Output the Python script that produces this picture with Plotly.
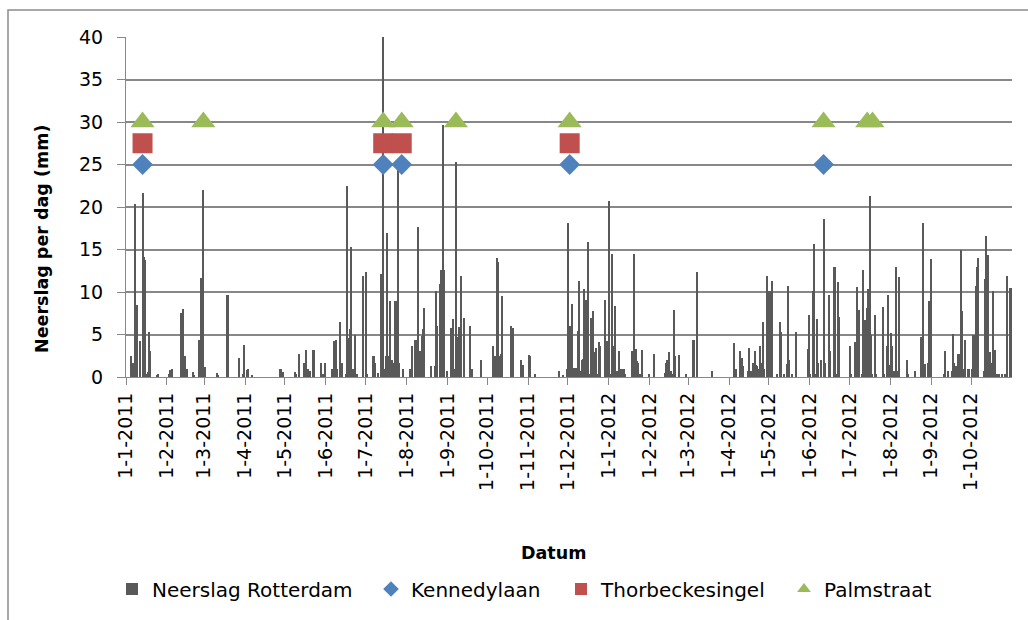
import pandas as pd
import plotly.graph_objects as go

# Daily precipitation Rotterdam (mm), only wet days listed; all other days are 0
rain_dates = [
    "2011-01-04", "2011-01-06", "2011-01-07", "2011-01-08", "2011-01-09", "2011-01-11", "2011-01-13",
    "2011-01-14", "2011-01-15", "2011-01-16", "2011-01-17", "2011-01-18", "2011-01-19", "2011-01-24",
    "2011-01-25", "2011-02-02", "2011-02-03", "2011-02-04", "2011-02-11", "2011-02-13", "2011-02-14",
    "2011-02-15", "2011-02-16", "2011-02-20", "2011-02-21", "2011-02-25", "2011-02-26", "2011-02-27",
    "2011-02-28", "2011-03-01", "2011-03-10", "2011-03-11", "2011-03-18", "2011-03-19", "2011-03-27",
    "2011-03-30", "2011-03-31", "2011-04-02", "2011-04-03", "2011-04-06", "2011-04-27", "2011-04-28",
    "2011-04-29", "2011-05-08", "2011-05-09", "2011-05-11", "2011-05-15", "2011-05-16", "2011-05-17",
    "2011-05-18", "2011-05-20", "2011-05-22", "2011-05-23", "2011-05-28", "2011-05-29", "2011-05-30",
    "2011-05-31", "2011-06-05", "2011-06-07", "2011-06-08", "2011-06-09", "2011-06-11", "2011-06-12",
    "2011-06-13", "2011-06-16", "2011-06-17", "2011-06-18", "2011-06-19", "2011-06-20", "2011-06-21",
    "2011-06-23", "2011-06-24", "2011-06-29", "2011-07-01", "2011-07-02", "2011-07-06", "2011-07-07",
    "2011-07-08", "2011-07-10", "2011-07-12", "2011-07-13", "2011-07-14", "2011-07-15", "2011-07-16",
    "2011-07-17", "2011-07-18", "2011-07-19", "2011-07-20", "2011-07-21", "2011-07-22", "2011-07-23",
    "2011-07-24", "2011-07-25", "2011-07-26", "2011-07-29", "2011-08-03", "2011-08-04", "2011-08-05",
    "2011-08-07", "2011-08-08", "2011-08-09", "2011-08-10", "2011-08-11", "2011-08-12", "2011-08-13",
    "2011-08-14", "2011-08-19", "2011-08-22", "2011-08-23", "2011-08-24", "2011-08-26", "2011-08-27",
    "2011-08-28", "2011-08-29", "2011-08-31", "2011-09-03", "2011-09-04", "2011-09-05", "2011-09-06",
    "2011-09-07", "2011-09-08", "2011-09-09", "2011-09-11", "2011-09-13", "2011-09-18", "2011-09-19",
    "2011-09-26", "2011-10-05", "2011-10-06", "2011-10-07", "2011-10-08", "2011-10-09", "2011-10-10",
    "2011-10-11", "2011-10-12", "2011-10-19", "2011-10-20", "2011-10-26", "2011-10-27", "2011-10-28",
    "2011-11-01", "2011-11-02", "2011-11-06", "2011-11-24", "2011-11-27", "2011-11-30", "2011-12-01",
    "2011-12-02", "2011-12-03", "2011-12-04", "2011-12-05", "2011-12-06", "2011-12-07", "2011-12-08",
    "2011-12-09", "2011-12-10", "2011-12-11", "2011-12-12", "2011-12-13", "2011-12-14", "2011-12-15",
    "2011-12-16", "2011-12-17", "2011-12-18", "2011-12-19", "2011-12-20", "2011-12-21", "2011-12-22",
    "2011-12-23", "2011-12-24", "2011-12-25", "2011-12-29", "2011-12-30", "2011-12-31",
    "2012-01-01", "2012-01-02", "2012-01-03", "2012-01-04", "2012-01-05", "2012-01-07", "2012-01-08",
    "2012-01-10", "2012-01-11", "2012-01-12", "2012-01-13", "2012-01-18", "2012-01-19", "2012-01-20",
    "2012-01-21", "2012-01-22", "2012-01-23", "2012-01-24", "2012-01-26", "2012-01-31", "2012-02-04",
    "2012-02-12", "2012-02-13", "2012-02-14", "2012-02-15", "2012-02-16", "2012-02-17", "2012-02-18",
    "2012-02-19", "2012-02-20", "2012-02-23", "2012-02-28", "2012-03-04", "2012-03-05", "2012-03-07",
    "2012-03-19", "2012-04-04", "2012-04-06", "2012-04-09", "2012-04-10", "2012-04-11", "2012-04-15",
    "2012-04-16", "2012-04-17", "2012-04-19", "2012-04-20", "2012-04-21", "2012-04-22", "2012-04-23",
    "2012-04-24", "2012-04-25", "2012-04-26", "2012-04-27", "2012-04-29", "2012-04-30", "2012-05-01",
    "2012-05-02", "2012-05-03", "2012-05-07", "2012-05-09", "2012-05-10", "2012-05-12", "2012-05-14",
    "2012-05-15", "2012-05-16", "2012-05-18", "2012-05-21", "2012-05-30", "2012-05-31", "2012-06-01",
    "2012-06-03", "2012-06-04", "2012-06-05", "2012-06-06", "2012-06-07", "2012-06-09", "2012-06-11",
    "2012-06-12", "2012-06-15", "2012-06-16", "2012-06-19", "2012-06-20", "2012-06-21", "2012-06-22",
    "2012-06-23", "2012-07-01", "2012-07-02", "2012-07-05", "2012-07-06", "2012-07-07", "2012-07-08",
    "2012-07-10", "2012-07-11", "2012-07-12", "2012-07-13", "2012-07-14", "2012-07-15", "2012-07-16",
    "2012-07-17", "2012-07-18", "2012-07-20", "2012-07-21", "2012-07-26", "2012-07-27", "2012-07-29",
    "2012-07-30", "2012-07-31", "2012-08-01", "2012-08-02", "2012-08-03", "2012-08-05", "2012-08-06",
    "2012-08-07", "2012-08-13", "2012-08-14", "2012-08-19", "2012-08-24", "2012-08-25", "2012-08-27",
    "2012-08-29", "2012-08-30", "2012-08-31", "2012-09-10", "2012-09-11", "2012-09-13", "2012-09-16",
    "2012-09-17", "2012-09-18", "2012-09-19", "2012-09-20", "2012-09-21", "2012-09-22", "2012-09-23",
    "2012-09-24", "2012-09-25", "2012-09-26", "2012-09-28", "2012-09-29", "2012-10-01", "2012-10-02",
    "2012-10-03", "2012-10-04", "2012-10-05", "2012-10-06", "2012-10-10", "2012-10-11", "2012-10-12",
    "2012-10-13", "2012-10-14", "2012-10-15", "2012-10-16", "2012-10-17", "2012-10-19", "2012-10-20",
    "2012-10-22", "2012-10-24", "2012-10-26", "2012-10-27", "2012-10-28", "2012-10-30", "2012-10-31",
]
rain_mm = [
    2.5, 1.6, 20.3, 1.2, 8.5, 4.2, 21.6,
    14.1, 13.8, 0.3, 0.6, 5.3, 3.1, 0.2,
    0.3, 0.3, 0.8, 1.0, 7.5, 8.0, 2.5,
    0.6, 0.9, 0.6, 0.2, 4.4, 11.6, 11.6,
    22.0, 1.2, 0.5, 0.2, 9.6, 9.6, 2.2,
    0.3, 3.8, 0.8, 1.0, 0.2, 0.9, 1.0,
    0.6, 0.6, 0.3, 2.7, 1.7, 1.7, 3.2,
    1.0, 0.7, 3.2, 3.2, 1.7, 0.3, 0.4,
    1.6, 0.9, 4.2, 4.4, 1.0, 6.5, 1.6,
    1.6, 0.3, 22.5, 4.6, 5.6, 15.3, 1.0,
    4.9, 0.4, 11.9, 12.4, 0.4, 2.5, 2.5,
    1.6, 0.5, 12.1, 6.5, 40.0, 0.9, 2.5,
    17.0, 2.5, 8.9, 0.9, 2.0, 1.6, 8.9,
    8.9, 25.0, 1.6, 1.0, 1.0, 1.0, 3.7,
    4.3, 4.3, 17.6, 0.7, 3.1, 4.8, 5.6,
    8.1, 1.3, 1.3, 10.1, 6.0, 10.9, 12.6,
    29.6, 12.6, 0.7, 5.8, 5.2, 6.8, 0.9,
    25.3, 4.7, 5.9, 11.9, 7.0, 6.0, 1.0,
    2.0, 3.7, 2.5, 2.5, 14.0, 13.5, 2.5,
    2.7, 9.5, 6.0, 5.8, 2.0, 0.4, 1.4,
    2.6, 2.5, 0.3, 0.7, 0.2, 1.0, 18.1,
    6.0, 6.0, 8.6, 1.1, 0.4, 1.1, 5.4,
    11.3, 0.7, 2.0, 2.1, 10.3, 9.1, 7.1,
    15.9, 0.4, 6.9, 6.9, 7.8, 2.9, 3.4,
    0.4, 4.1, 3.7, 9.1, 4.2, 2.7,
    20.7, 0.4, 14.5, 3.6, 8.4, 0.7, 3.1,
    1.0, 1.0, 0.9, 0.4, 3.1, 3.1, 14.5,
    3.3, 1.9, 1.6, 0.4, 3.2, 0.3, 2.7,
    0.5, 1.6, 2.0, 3.0, 0.4, 0.7, 0.4,
    7.9, 2.5, 2.6, 0.4, 4.3, 4.4, 12.4,
    0.7, 4.0, 0.9, 3.1, 2.2, 1.3, 0.7,
    3.4, 0.7, 1.6, 3.1, 1.4, 1.3, 0.9,
    3.7, 1.6, 6.5, 0.9, 11.9, 0.3, 10.1,
    10.1, 11.3, 0.3, 6.5, 5.3, 0.3, 1.5,
    10.7, 2.0, 0.4, 5.3, 3.3, 7.3, 0.4,
    10.1, 15.7, 0.3, 6.8, 1.6, 2.0, 18.6,
    1.6, 9.7, 3.1, 12.9, 12.9, 0.4, 11.2,
    7.1, 3.7, 0.3, 4.1, 10.6, 0.7, 7.9,
    0.3, 12.6, 6.7, 4.3, 8.1, 10.4, 21.3,
    4.9, 0.4, 7.3, 0.3, 8.2, 0.3, 3.6,
    9.7, 1.4, 5.2, 3.6, 0.7, 12.9, 0.7,
    11.8, 2.0, 0.4, 0.7, 4.7, 18.1, 1.5,
    1.6, 9.0, 13.9, 0.3, 3.1, 0.7, 0.7,
    5.1, 1.6, 1.3, 0.9, 2.7, 2.7, 14.9,
    7.8, 0.9, 4.3, 1.0, 1.0, 1.0, 4.9,
    4.9, 10.7, 12.9, 14.0, 0.7, 11.5, 16.6,
    14.4, 1.3, 3.0, 1.6, 10.1, 3.2, 0.4,
    0.4, 0.4, 0.3, 0.3, 11.9, 10.5, 10.5,
]

# Observation days per location, drawn at a fixed height per series
kennedylaan_dates = ["2011-01-13", "2011-07-14", "2011-07-28", "2011-12-02", "2012-06-11"]
kennedylaan_level = 25
thorbecke_dates = ["2011-01-13", "2011-07-14", "2011-07-28", "2011-12-02"]
thorbecke_level = 27.5
palmstraat_dates = ["2011-01-13", "2011-02-28", "2011-07-14", "2011-07-28", "2011-09-07",
                    "2011-12-02", "2012-06-11", "2012-07-14", "2012-07-18"]
palmstraat_level = 30

tick_dates = ["2011-01-01", "2011-02-01", "2011-03-01", "2011-04-01", "2011-05-01", "2011-06-01",
              "2011-07-01", "2011-08-01", "2011-09-01", "2011-10-01", "2011-11-01", "2011-12-01",
              "2012-01-01", "2012-02-01", "2012-03-01", "2012-04-01", "2012-05-01", "2012-06-01",
              "2012-07-01", "2012-08-01", "2012-09-01", "2012-10-01"]
tick_labels = ["1-1-2011", "1-2-2011", "1-3-2011", "1-4-2011", "1-5-2011", "1-6-2011",
               "1-7-2011", "1-8-2011", "1-9-2011", "1-10-2011", "1-11-2011", "1-12-2011",
               "1-1-2012", "1-2-2012", "1-3-2012", "1-4-2012", "1-5-2012", "1-6-2012",
               "1-7-2012", "1-8-2012", "1-9-2012", "1-10-2012"]

# Full daily series (dry days = 0), each bar centred within its day
days = pd.date_range("2011-01-01", "2012-10-31", freq="D")
daily = pd.Series(rain_mm, index=pd.to_datetime(rain_dates)).reindex(days, fill_value=0.0)
half_day = pd.Timedelta(hours=12)
DAY_MS = 86400000


def centred(dates):
    return pd.to_datetime(dates) + half_day


GRID = "#888888"
FONT = "DejaVu Sans"

fig = go.Figure()
fig.add_trace(go.Bar(
    x=daily.index + half_day, y=daily.values, name="Neerslag Rotterdam", legend="legend",
    marker=dict(color="#595959", line=dict(width=0)), width=0.8 * DAY_MS,
))
fig.add_trace(go.Scatter(
    x=centred(kennedylaan_dates), y=[kennedylaan_level] * len(kennedylaan_dates),
    mode="markers", name="Kennedylaan", legend="legend2",
    marker=dict(symbol="diamond", size=16, color="#4F81BD"),
))
fig.add_trace(go.Scatter(
    x=centred(thorbecke_dates), y=[thorbecke_level] * len(thorbecke_dates),
    mode="markers", name="Thorbeckesingel", legend="legend3",
    marker=dict(symbol="square", size=20, color="#C0504D"),
))
fig.add_trace(go.Scatter(
    x=centred(palmstraat_dates), y=[palmstraat_level] * len(palmstraat_dates),
    mode="markers", name="Palmstraat", legend="legend4",
    marker=dict(symbol="triangle-up", size=21, color="#9BBB59"),
))

L, R, T, B = 126, 16, 37, 243
W, H = 1028 - L - R, 620 - T - B


def px(xp):
    return (xp - L) / W


def py(yp):
    return (620 - B - yp) / H


def legend_box(x_left):
    return dict(
        orientation="h", x=px(x_left), y=py(589), xanchor="left", yanchor="middle",
        font=dict(family=FONT, size=20, color="#000000"),
        itemsizing="constant", bgcolor="rgba(0,0,0,0)",
    )


fig.update_layout(
    width=1028, height=620,
    margin=dict(l=L, r=R, t=T, b=B),
    paper_bgcolor="white", plot_bgcolor="white",
    font=dict(family=FONT, size=19, color="#000000"),
    bargap=0,
    showlegend=True,
    legend=legend_box(112),
    legend2=legend_box(371),
    legend3=legend_box(561),
    legend4=legend_box(784),
    xaxis=dict(
        type="date", range=["2011-01-01", "2012-11-01"],
        tickmode="array", tickvals=tick_dates, ticktext=tick_labels, tickangle=-90,
        showgrid=False, showline=True, linecolor=GRID, linewidth=1,
        ticks="outside", ticklen=7, tickcolor=GRID, tickwidth=1,
        tickfont=dict(family=FONT, size=19, color="#000000"),
        zeroline=False,
    ),
    yaxis=dict(
        range=[0, 40], dtick=5, tick0=0,
        showgrid=True, gridcolor=GRID, gridwidth=1.5,
        showline=True, linecolor=GRID, linewidth=1,
        ticks="outside", ticklen=8, tickcolor=GRID, tickwidth=1,
        tickfont=dict(family=FONT, size=19, color="#000000"),
        ticklabelstandoff=10,
        zeroline=False,
    ),
    annotations=[
        dict(text="<b>Neerslag per dag (mm)</b>", textangle=-90, x=px(42), y=py(239),
             xanchor="center", yanchor="middle", xref="paper", yref="paper", showarrow=False,
             font=dict(family=FONT, size=17.5, color="#000000")),
        dict(text="<b>Datum</b>", x=px(553), y=py(553), xanchor="center", yanchor="middle",
             xref="paper", yref="paper", showarrow=False,
             font=dict(family=FONT, size=17.5, color="#000000")),
    ],
    shapes=[
        dict(type="rect", xref="paper", yref="paper",
             x0=px(8), y0=py(640), x1=px(1040), y1=py(10),
             line=dict(color="#8C8C8C", width=1.5), fillcolor="rgba(0,0,0,0)", layer="below"),
    ],
)

fig.write_html("out.html")
